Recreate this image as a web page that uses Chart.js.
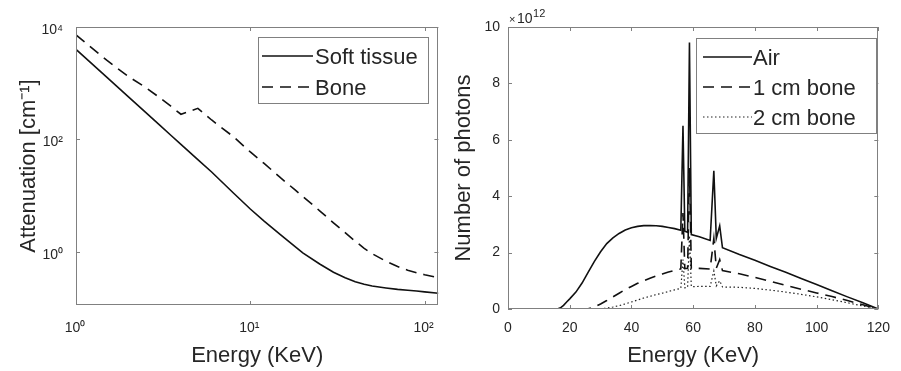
<!DOCTYPE html>
<html><head><meta charset="utf-8">
<script src="https://cdn.jsdelivr.net/npm/chart.js@4.4.0/dist/chart.umd.min.js"></script>
<style>
html,body{margin:0;padding:0;background:#fff;}
#wrap{position:relative;width:901px;height:371px;overflow:hidden;background:#fff;}
canvas{position:absolute;top:0;}
#c1{left:0;} #c2{left:450px;}
</style></head><body>
<div id="wrap"><canvas id="c1" width="450" height="371"></canvas><canvas id="c2" width="451" height="371"></canvas></div>
<script>
// ---------- data: attenuation (left panel) ----------
const attenEnergy = [1, 1.5, 2, 2.5, 3, 3.5, 4, 5, 6, 8, 10, 12, 15, 18, 20, 25, 30, 35, 40, 45, 50, 60, 70, 80, 90, 100, 120];
const softTissue  = [4000, 1280, 571, 306, 184, 119, 82, 44, 26.4, 11.2, 5.8, 3.55, 2.0, 1.26, 0.96, 0.61, 0.437, 0.347, 0.295, 0.266, 0.248, 0.229, 0.216, 0.209, 0.202, 0.195, 0.184];
const bone        = [7210, 2570, 1310, 850, 562, 390, 281, 358, 222, 112, 60, 37.5, 20.5, 12.8, 9.7, 5.4, 3.3, 2.2, 1.55, 1.16, 0.933, 0.684, 0.55, 0.473, 0.427, 0.394, 0.349];
const attenXTicks = [1, 10, 100];
const attenYTicks = [1, 100, 10000];

// ---------- data: photon spectra (right panel), units of 1e12 ----------
const spectrumEnergy = [0, 10, 16, 17, 18, 19, 20, 22, 24, 26, 28, 30, 32, 34, 36, 38, 40, 42, 44, 46, 48, 50, 52, 54, 56, 56.7, 57.3, 58.2, 58.8, 59.4, 62, 65.5, 66.7, 67.5, 68.6, 69.5, 75, 80, 85, 90, 95, 100, 105, 110, 115, 120];
const photonsAir     = [0, 0, 0, 0.04, 0.13, 0.25, 0.36, 0.6, 0.92, 1.31, 1.69, 2.03, 2.32, 2.52, 2.68, 2.8, 2.88, 2.93, 2.955, 2.96, 2.95, 2.93, 2.89, 2.85, 2.79, 6.5, 2.76, 2.72, 9.45, 2.64, 2.56, 2.43, 4.9, 2.5, 2.95, 2.17, 1.93, 1.73, 1.51, 1.3, 1.08, 0.87, 0.65, 0.43, 0.22, 0];
const photons1cmBone = [0, 0, 0, 0, 0, 0, 0, 0, 0, 0.01, 0.07, 0.18, 0.3, 0.43, 0.56, 0.69, 0.8, 0.91, 1.0, 1.09, 1.17, 1.24, 1.31, 1.37, 1.42, 3.4, 1.43, 1.44, 5.0, 1.44, 1.44, 1.42, 2.5, 1.45, 1.75, 1.36, 1.25, 1.12, 0.98, 0.84, 0.7, 0.57, 0.44, 0.3, 0.15, 0];
const photons2cmBone = [0, 0, 0, 0, 0, 0, 0, 0, 0, 0, 0, 0.01, 0.03, 0.07, 0.12, 0.18, 0.25, 0.32, 0.39, 0.45, 0.51, 0.56, 0.62, 0.68, 0.73, 1.75, 0.75, 0.77, 2.6, 0.79, 0.8, 0.8, 1.35, 0.82, 1.0, 0.78, 0.77, 0.73, 0.67, 0.6, 0.52, 0.43, 0.33, 0.22, 0.11, 0];
const spectrumXTicks = [0, 20, 40, 60, 80, 100, 120];
const spectrumYTicks = [0, 2, 4, 6, 8, 10];
const photonsExponent = 12;

// ---------- styling ----------
const FONT = '"Liberation Sans", Arial, Helvetica, sans-serif';
const INK = '#262626';
const AXIS = '#808080';
const LINE = '#111111';
Chart.defaults.font.family = FONT;
Chart.defaults.color = INK;

const SUP = {'0':'⁰','1':'¹','2':'²','3':'³','4':'⁴','5':'⁵','6':'⁶','7':'⁷','8':'⁸','9':'⁹','-':'⁻'};
const toSup = s => String(s).split('').map(c => SUP[c] || c).join('');
const pow10Label = v => '10' + toSup(Math.round(Math.log10(v)));
const pts = (xs, ys) => xs.map((x, i) => ({x, y: ys[i]}));

const framePlugin = {
  id: 'frame',
  afterDatasetsDraw(chart, args, o) {
    const {ctx, chartArea: a, scales} = chart;
    ctx.save();
    ctx.strokeStyle = AXIS; ctx.lineWidth = 1; ctx.setLineDash([]);
    const L = 4;
    ctx.beginPath();
    scales.x.ticks.forEach(t => {
      const p = Math.round(scales.x.getPixelForValue(t.value)) + 0.5;
      ctx.moveTo(p, a.bottom); ctx.lineTo(p, a.bottom - L);
      ctx.moveTo(p, a.top); ctx.lineTo(p, a.top + L);
    });
    scales.y.ticks.forEach(t => {
      const p = Math.round(scales.y.getPixelForValue(t.value)) + 0.5;
      ctx.moveTo(a.left, p); ctx.lineTo(a.left + L, p);
      ctx.moveTo(a.right, p); ctx.lineTo(a.right - L, p);
    });
    ctx.stroke();
    ctx.strokeRect(Math.round(a.left) + 0.5, Math.round(a.top) + 0.5, Math.round(a.right - a.left) - 1, Math.round(a.bottom - a.top) - 1);

    const g = o.legend;
    const x0 = Math.round(a.right - g.offsetRight - g.width), y0 = Math.round(a.top + g.offsetTop);
    ctx.fillStyle = '#fff';
    ctx.fillRect(x0, y0, g.width, g.height);
    ctx.strokeStyle = AXIS;
    ctx.strokeRect(x0 + 0.5, y0 + 0.5, g.width, g.height);
    chart.data.datasets.forEach((ds, i) => {
      const y = y0 + g.firstRow + i * g.rowGap;
      ctx.save();
      ctx.setLineDash(ds.borderDash || []);
      ctx.lineWidth = ds.borderWidth; ctx.strokeStyle = ds.borderColor;
      ctx.beginPath(); ctx.moveTo(x0 + g.sampleLeft, y); ctx.lineTo(x0 + g.sampleLeft + g.sampleLen, y); ctx.stroke();
      ctx.restore();
      ctx.fillStyle = INK; ctx.font = '22px ' + FONT; ctx.textBaseline = 'alphabetic'; ctx.textAlign = 'left';
      ctx.fillText(ds.label, x0 + g.textLeft, y + 8);
    });

    if (o.exponent !== undefined) {
      ctx.fillStyle = INK; ctx.textBaseline = 'alphabetic'; ctx.textAlign = 'left';
      const by = a.top - 4;
      ctx.font = '11px ' + FONT;
      ctx.fillText('×', a.left + 1, by);
      ctx.font = '14px ' + FONT;
      ctx.fillText('10', a.left + 9, by);
      const w = ctx.measureText('10').width;
      ctx.font = '11px ' + FONT;
      ctx.fillText(String(o.exponent), a.left + 9 + w + 0.5, by - 6);
    }
    ctx.restore();
  }
};

const noGrid = {display: false, drawTicks: false};

// ---------- left: attenuation ----------
new Chart(document.getElementById('c1'), {
  type: 'line',
  data: {
    datasets: [
      {label: 'Soft tissue', data: pts(attenEnergy, softTissue), borderColor: LINE, borderWidth: 1.6, pointRadius: 0, tension: 0},
      {label: 'Bone', data: pts(attenEnergy, bone), borderColor: LINE, borderWidth: 1.6, borderDash: [11, 7], pointRadius: 0, tension: 0}
    ]
  },
  options: {
    responsive: false, animation: false, events: [],
    layout: {padding: {top: 27, right: 7, left: 0, bottom: 0}},
    plugins: {
      legend: {display: false}, tooltip: {enabled: false},
      frame: {legend: {offsetRight: 10, offsetTop: 10, width: 170, height: 66, firstRow: 19, rowGap: 31, sampleLeft: 4, sampleLen: 51, textLeft: 57}}
    },
    scales: {
      x: {
        type: 'logarithmic', min: 1, max: 120,
        afterBuildTicks: s => { s.ticks = attenXTicks.map(v => ({value: v})); },
        afterFit: s => { s.height = 66; },
        grid: noGrid, border: {display: false},
        ticks: {callback: v => pow10Label(v), font: {size: 14}, color: INK, padding: 15, maxRotation: 0, autoSkip: false, labelOffset: -1},
        title: {display: true, text: 'Energy (KeV)', font: {size: 22}, color: INK, padding: {top: 0, bottom: 2}}
      },
      y: {
        type: 'logarithmic', min: 0.114, max: 10000,
        afterBuildTicks: s => { s.ticks = attenYTicks.map(v => ({value: v})); },
        afterFit: s => { s.width = 76; },
        grid: noGrid, border: {display: false},
        ticks: {callback: v => pow10Label(v), font: {size: 14}, color: INK, padding: 13, autoSkip: false, labelOffset: 3},
        title: {display: true, text: 'Attenuation [cm⁻¹]', font: {size: 22}, color: INK, padding: {top: 16, bottom: 0}}
      }
    }
  },
  plugins: [framePlugin]
});

// ---------- right: photon spectra ----------
new Chart(document.getElementById('c2'), {
  type: 'line',
  data: {
    datasets: [
      {label: 'Air', data: pts(spectrumEnergy, photonsAir), borderColor: LINE, borderWidth: 1.6, pointRadius: 0, tension: 0},
      {label: '1 cm bone', data: pts(spectrumEnergy, photons1cmBone), borderColor: LINE, borderWidth: 1.6, borderDash: [11, 7], pointRadius: 0, tension: 0},
      {label: '2 cm bone', data: pts(spectrumEnergy, photons2cmBone), borderColor: '#222', borderWidth: 1.2, borderDash: [1.5, 2.5], pointRadius: 0, tension: 0}
    ]
  },
  options: {
    responsive: false, animation: false, events: [],
    layout: {padding: {top: 27, right: 13, left: 0, bottom: 0}},
    plugins: {
      legend: {display: false}, tooltip: {enabled: false},
      frame: {exponent: photonsExponent, legend: {offsetRight: 2, offsetTop: 11, width: 180, height: 95, firstRow: 19, rowGap: 30, sampleLeft: 7, sampleLen: 49, textLeft: 57}}
    },
    scales: {
      x: {
        type: 'linear', min: 0, max: 120,
        afterBuildTicks: s => { s.ticks = spectrumXTicks.map(v => ({value: v})); },
        afterFit: s => { s.height = 62; },
        grid: noGrid, border: {display: false},
        ticks: {font: {size: 14}, color: INK, padding: 11, maxRotation: 0, autoSkip: false},
        title: {display: true, text: 'Energy (KeV)', font: {size: 22}, color: INK, padding: {top: 0, bottom: 1.5}}
      },
      y: {
        type: 'linear', min: 0, max: 10,
        afterBuildTicks: s => { s.ticks = spectrumYTicks.map(v => ({value: v})); },
        afterFit: s => { s.width = 58; },
        grid: noGrid, border: {display: false},
        ticks: {font: {size: 14}, color: INK, padding: 8, autoSkip: false},
        title: {display: true, text: 'Number of photons', font: {size: 22}, color: INK, padding: {top: 1, bottom: 0}}
      }
    }
  },
  plugins: [framePlugin]
});
</script>
</body></html>
